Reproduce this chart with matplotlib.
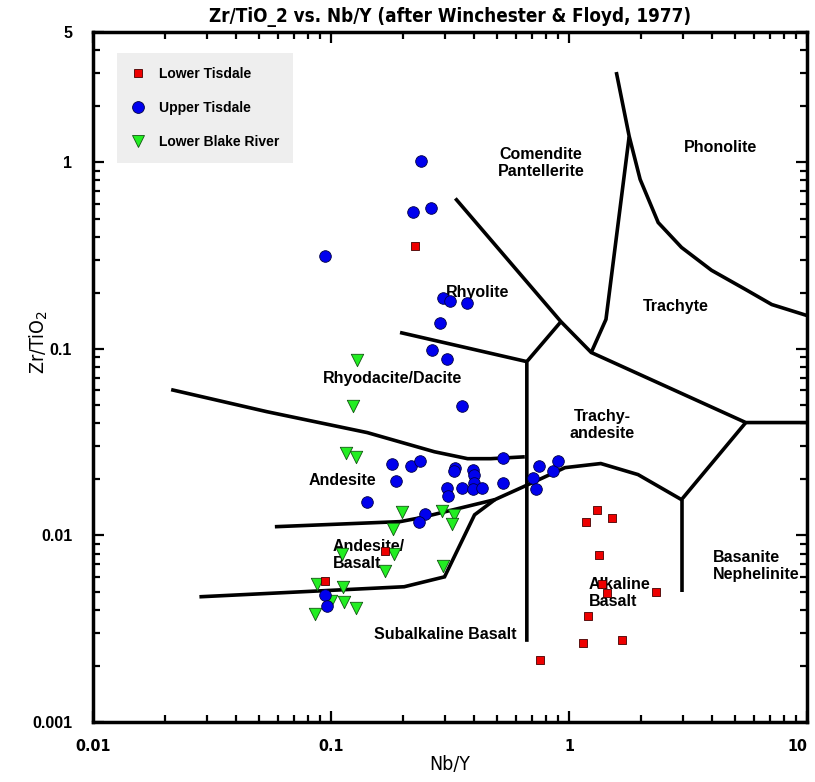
import matplotlib
matplotlib.use('Agg')
import matplotlib.pyplot as plt
from matplotlib.ticker import FixedLocator, NullFormatter, LogLocator
from matplotlib.lines import Line2D

# ---------------- data ----------------
lower_tisdale_x = [0.225, 0.169, 0.094, 1.31, 1.18, 1.52, 1.34, 1.38, 1.44, 2.32, 1.20, 1.15, 1.67, 0.755]
lower_tisdale_y = [0.357, 0.0083, 0.0057, 0.0137, 0.0118, 0.0124, 0.0079, 0.0055, 0.0049, 0.0050, 0.0037, 0.00265, 0.00275, 0.00215]

upper_tisdale_x = [0.239, 0.221, 0.263, 0.094, 0.296, 0.316, 0.373, 0.287, 0.266, 0.307, 0.355,
                   0.180, 0.217, 0.237, 0.188, 0.142, 0.332, 0.329, 0.395, 0.399, 0.399, 0.307,
                   0.310, 0.355, 0.395, 0.431, 0.528, 0.528, 0.748, 0.857, 0.899, 0.706, 0.727,
                   0.248, 0.234, 0.094, 0.096]
upper_tisdale_y = [1.02, 0.543, 0.570, 0.315, 0.188, 0.181, 0.176, 0.138, 0.099, 0.088, 0.0495,
                   0.0242, 0.0236, 0.0251, 0.0196, 0.0151, 0.0230, 0.0222, 0.0224, 0.0211, 0.0191, 0.0180,
                   0.0163, 0.0180, 0.0178, 0.0180, 0.0191, 0.0260, 0.0236, 0.0222, 0.0251, 0.0203, 0.0178,
                   0.0130, 0.0118, 0.0048, 0.0042]

lower_blake_x = [0.129, 0.124, 0.116, 0.127, 0.199, 0.293, 0.329, 0.322, 0.182, 0.111, 0.184,
                 0.169, 0.296, 0.087, 0.112, 0.113, 0.127, 0.086, 0.100]
lower_blake_y = [0.087, 0.0495, 0.0277, 0.0264, 0.0134, 0.0135, 0.0129, 0.0115, 0.0108, 0.0080, 0.0080,
                 0.00645, 0.00686, 0.0055, 0.0053, 0.0044, 0.0041, 0.0038, 0.00446]

# field boundaries (Winchester & Floyd, 1977)
comendite_x = [0.333, 0.925, 1.24, 5.53, 10.0]
comendite_y = [0.641, 0.140, 0.0957, 0.0403, 0.0403]
rhyolite_junction_x = [0.925, 0.665, 0.665]
rhyolite_junction_y = [0.140, 0.0855, 0.00269]
rhyolite_rhyodacite_x = [0.195, 0.665]
rhyolite_rhyodacite_y = [0.1225, 0.0855]
phonolite_left_x = [1.58, 1.79, 1.43, 1.24]
phonolite_left_y = [3.05, 1.38, 0.144, 0.0957]
phonolite_right_x = [1.79, 1.99, 2.37, 2.97, 3.97, 5.53, 7.11, 10.0]
phonolite_right_y = [1.38, 0.811, 0.476, 0.350, 0.264, 0.208, 0.173, 0.151]
andesite_basalt_x = [0.0581, 0.195, 0.238, 0.488, 0.659, 0.962, 1.36, 1.95, 2.97, 5.53]
andesite_basalt_y = [0.01114, 0.01186, 0.01245, 0.01556, 0.0185, 0.0231, 0.0243, 0.0212, 0.01556, 0.0403]
basanite_x = [2.97, 2.97]
basanite_y = [0.01556, 0.00499]
subalkaline_x = [0.0280, 0.203, 0.300, 0.401, 0.488]
subalkaline_y = [0.00469, 0.00531, 0.0060, 0.0129, 0.01556]
rhyodacite_andesite_x = [0.0213, 0.0537, 0.142, 0.272, 0.375, 0.469, 0.652]
rhyodacite_andesite_y = [0.0605, 0.0461, 0.0356, 0.0281, 0.0258, 0.0258, 0.0264]

boundaries = [
    (comendite_x, comendite_y), (rhyolite_junction_x, rhyolite_junction_y),
    (rhyolite_rhyodacite_x, rhyolite_rhyodacite_y), (phonolite_left_x, phonolite_left_y),
    (phonolite_right_x, phonolite_right_y), (andesite_basalt_x, andesite_basalt_y),
    (basanite_x, basanite_y), (subalkaline_x, subalkaline_y),
    (rhyodacite_andesite_x, rhyodacite_andesite_y),
]

field_names = ["Comendite\nPantellerite", "Phonolite", "Rhyolite", "Trachyte", "Trachy-\nandesite",
               "Rhyodacite/Dacite", "Andesite", "Andesite/\nBasalt", "Subalkaline Basalt",
               "Alkaline\nBasalt", "Basanite\nNephelinite"]
field_x = [0.762, 4.31, 0.411, 2.82, 1.376, 0.181, 0.112, 0.1019, 0.301, 1.213, 4.03]
field_y = [0.993, 1.197, 0.200, 0.168, 0.0391, 0.069, 0.0196, 0.00786, 0.00293, 0.00492, 0.00686]
field_ha = ["center", "center", "center", "center", "center", "center", "center", "left", "center", "left", "left"]

x_ticks = [0.01, 0.1, 1, 10]
x_ticklabels = ["0.01", "0.1", "1", "10"]
y_ticks = [0.001, 0.01, 0.1, 1, 5]
y_ticklabels = ["0.001", "0.01", "0.1", "1", "5"]

# ---------------- figure ----------------
narrow = ['DejaVu Sans']
plt.rcParams['font.family'] = ['Liberation Sans', 'DejaVu Sans']

fig = plt.figure(figsize=(8.15, 7.82), dpi=100)
ax = fig.add_axes([93 / 815, 60 / 782, 714 / 815, 690 / 782])
ax.set_xscale('log')
ax.set_yscale('log')
ax.set_xlim(0.01, 10)
ax.set_ylim(0.001, 5)

for bx, by in boundaries:
    ax.plot(bx, by, color='black', lw=2.6, solid_joinstyle='miter', solid_capstyle='butt', zorder=2)

for name, fx, fy, ha in zip(field_names, field_x, field_y, field_ha):
    ax.text(fx, fy, name, ha=ha, va='center', fontsize=11.5, fontweight='bold',
            multialignment='left' if ha == 'left' else 'center', linespacing=1.2, zorder=3)

ax.scatter(lower_blake_x, lower_blake_y, marker='v', s=80, c='#22ee22', edgecolors='#115511',
           linewidths=0.6, zorder=4)
ax.scatter(upper_tisdale_x, upper_tisdale_y, marker='o', s=70, c='#0000ee', edgecolors='#000044',
           linewidths=0.6, zorder=5)
ax.scatter(lower_tisdale_x, lower_tisdale_y, marker='s', s=38, c='#ee0000', edgecolors='#440000',
           linewidths=0.6, zorder=6)

# ticks
ax.xaxis.set_major_locator(FixedLocator(x_ticks))
ax.yaxis.set_major_locator(FixedLocator(y_ticks))
ax.xaxis.set_minor_locator(LogLocator(base=10, subs=range(2, 10)))
ax.yaxis.set_minor_locator(LogLocator(base=10, subs=range(2, 10)))
ax.xaxis.set_minor_formatter(NullFormatter())
ax.yaxis.set_minor_formatter(NullFormatter())
ax.set_xticklabels(x_ticklabels, fontsize=11.5, fontweight='bold', family=narrow, fontstretch='condensed')
ax.set_yticklabels(y_ticklabels, fontsize=11.5, fontweight='bold')
ax.get_xticklabels()[-1].set_horizontalalignment('right')
ax.tick_params(which='both', direction='in', top=True, right=True, width=1.6)
ax.tick_params(which='major', length=8)
ax.tick_params(which='minor', length=5)
ax.tick_params(axis='x', which='major', pad=12)
ax.tick_params(axis='y', which='major', pad=15)
for sp in ax.spines.values():
    sp.set_linewidth(2.5)

ax.set_xlabel("Nb/Y", fontsize=14, family=narrow, fontstretch='condensed', labelpad=1)
ax.set_ylabel("Zr/TiO$_2$", fontsize=14, family=narrow, fontstretch='condensed')
ax.yaxis.set_label_coords(-0.060, 0.55)
ax.set_title("Zr/TiO_2 vs. Nb/Y (after Winchester & Floyd, 1977)", fontsize=13.5,
             family=narrow, fontstretch='condensed', fontweight='bold', pad=7)

handles = [
    Line2D([], [], ls='none', marker='s', ms=6, mfc='#ee0000', mec='#440000', mew=0.6),
    Line2D([], [], ls='none', marker='o', ms=8.5, mfc='#0000ee', mec='#000044', mew=0.6),
    Line2D([], [], ls='none', marker='v', ms=9, mfc='#22ee22', mec='#115511', mew=0.6),
]
leg = ax.legend(handles, ["Lower Tisdale", "Upper Tisdale", "Lower Blake River"],
                loc='upper left', bbox_to_anchor=(24 / 714, (722 - 53) / 690), borderaxespad=0,
                prop={'size': 10, 'weight': 'bold'}, labelspacing=1.45, borderpad=1.0,
                handletextpad=1.0, handlelength=1.0, fancybox=False, frameon=True)
leg.get_frame().set_facecolor('#eeeeee')
leg.get_frame().set_edgecolor('none')
leg.get_frame().set_alpha(1)

fig.savefig('out.png', dpi=100)
